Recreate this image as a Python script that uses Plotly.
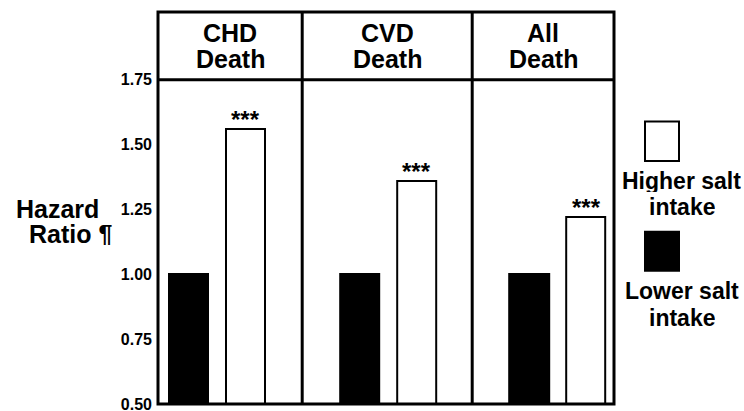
import plotly.graph_objects as go
from plotly.subplots import make_subplots

# ---- data ----
outcome_names = ["CHD", "CVD", "All"]
outcome_suffix = "Death"
groups = ["Lower salt intake", "Higher salt intake"]
lower_salt = [1.00, 1.00, 1.00]
higher_salt = [1.56, 1.36, 1.22]
significance = ["***", "***", "***"]
y_ticks = [0.50, 0.75, 1.00, 1.25, 1.50, 1.75]
y_tick_labels = ["0.50", "0.75", "1.00", "1.25", "1.50", "1.75"]

# ---- layout geometry ----
W, H = 744, 411
ML, MR, MT, MB = 158, 130, 12, 7
PW, PH = W - ML - MR, H - MT - MB
panel_widths = [144.2, 170.0, 141.8]
x_ranges = [[-0.536, 1.994], [-1.004, 1.979], [-1.0, 1.491]]
FONT = "Liberation Sans, Arial, Helvetica, sans-serif"


def px_x(x):
    return (x - ML) / PW


def px_y(y):
    return (H - MB - y) / PH


fig = make_subplots(rows=1, cols=3, shared_yaxes=True, horizontal_spacing=0,
                    column_widths=panel_widths)

for i in range(3):
    fig.add_trace(go.Bar(
        x=groups, y=[lower_salt[i], higher_salt[i]],
        base=0, width=0.69,
        marker=dict(color=["black", "white"], line=dict(color="black", width=2)),
        showlegend=False, hoverinfo="x+y",
    ), row=1, col=i + 1)
    fig.add_annotation(
        x=groups[1], y=higher_salt[i], xref=f"x{i + 1 if i else ''}", yref="y",
        text=significance[i], showarrow=False, xanchor="center",
        yanchor="bottom", yshift=-6,
        font=dict(family=FONT, size=24, color="black", weight="bold"),
    )
    fig.update_xaxes(type="category", range=x_ranges[i], showticklabels=False,
                     showgrid=False, zeroline=False, showline=False, ticks="",
                     automargin=False, row=1, col=i + 1)

fig.update_yaxes(range=[0.5, 2.011], tickvals=y_ticks, ticktext=y_tick_labels,
                 showgrid=False, zeroline=False, showline=False, ticks="",
                 ticklabelstandoff=5, ticklabeloverflow="allow", automargin=False,
                 tickfont=dict(family=FONT, size=16, color="black", weight="bold"))

# frame, dividers and header line
shapes = [dict(type="rect", xref="paper", yref="paper", x0=0, x1=1, y0=0, y1=1,
               line=dict(color="black", width=3))]
cum = 0
total = sum(panel_widths)
centers = []
for i, w in enumerate(panel_widths):
    centers.append((cum + w / 2) / total)
    cum += w
    if i < 2:
        shapes.append(dict(type="line", xref="paper", yref="paper",
                           x0=cum / total, x1=cum / total, y0=0, y1=1,
                           line=dict(color="black", width=3)))
shapes.append(dict(type="line", xref="paper", yref="y", x0=0, x1=1,
                   y0=y_ticks[-1], y1=y_ticks[-1], line=dict(color="black", width=3)))

# legend swatches
shapes.append(dict(type="rect", xref="paper", yref="paper",
                   x0=px_x(645), x1=px_x(679), y0=px_y(121.5), y1=px_y(161),
                   fillcolor="white", line=dict(color="black", width=2)))
shapes.append(dict(type="rect", xref="paper", yref="paper",
                   x0=px_x(644), x1=px_x(680), y0=px_y(230.7), y1=px_y(271.7),
                   fillcolor="black", line=dict(color="black", width=0)))
fig.update_layout(shapes=shapes)

big = dict(family=FONT, size=25, color="black", weight="bold")
leg = dict(family=FONT, size=23, color="black", weight="bold")


def label(x, y, text, font, height=None):
    fig.add_annotation(x=x, y=y, xref="paper", yref="paper", text=text,
                       showarrow=False, font=font, xanchor="center", yanchor="middle",
                       height=height, valign="middle", borderpad=0)


for i, name in enumerate(outcome_names):
    label(centers[i], px_y(32.5), name, big, height=22)
    label(centers[i], px_y(58.5), outcome_suffix, big, height=22)

# y-axis title
label(px_x(57.5), px_y(209), "Hazard", big, height=22)
label(px_x(70), px_y(234), "Ratio ¶", big, height=22)

# legend labels
for txt, yy in [("Higher salt", 181), ("intake", 206.5),
                ("Lower salt", 291.2), ("intake", 317.7)]:
    label(px_x(681.5), px_y(yy), txt, leg, height=22)

fig.update_layout(width=W, height=H, margin=dict(l=ML, r=MR, t=MT, b=MB),
                  plot_bgcolor="white", paper_bgcolor="white", bargap=0)

fig.write_html("out.html", config={"displayModeBar": False},
               post_script="document.body.style.margin='0px';document.body.style.overflow='hidden';")
